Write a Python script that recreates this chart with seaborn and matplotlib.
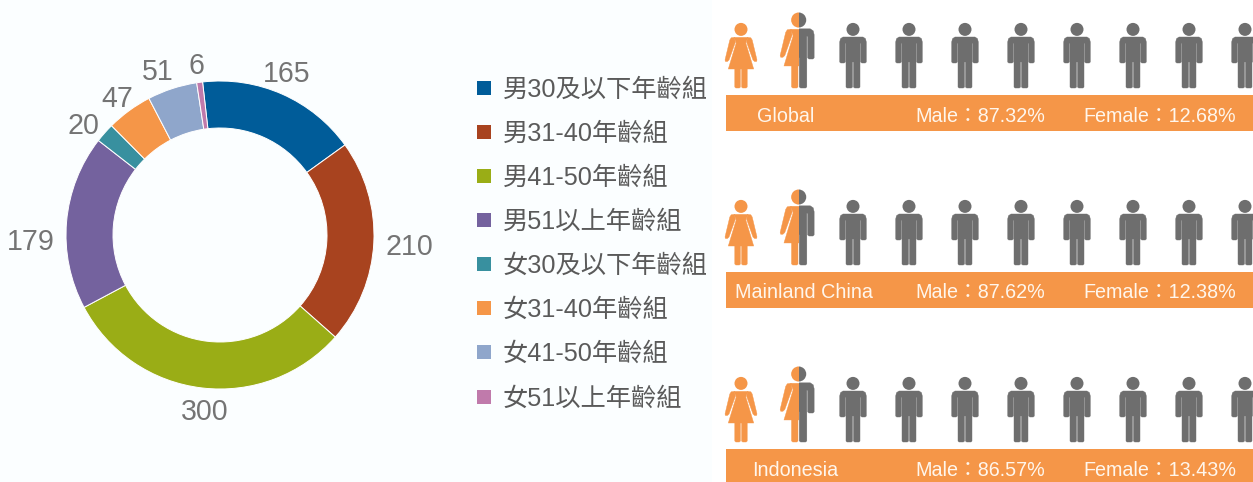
import numpy as np
import pandas as pd
import matplotlib
matplotlib.use("Agg")
import matplotlib.pyplot as plt
from matplotlib.patches import Circle, Polygon, Rectangle
import seaborn as sns

# donut data
groups = ["男30及以下年齡組", "男31-40年齡組", "男41-50年齡組", "男51以上年齡組",
          "女30及以下年齡組", "女31-40年齡組", "女41-50年齡組", "女51以上年齡組"]
counts = [165, 210, 300, 179, 20, 47, 51, 6]
colors = ["#005C99", "#A8431F", "#9AAD16", "#74629E",
          "#38909F", "#F59648", "#8FA6CB", "#C07AAB"]

# gender ratio rows
regions = ["Global", "Mainland China", "Indonesia"]
male_pct = ["87.32%", "87.62%", "86.57%"]
female_pct = ["12.68%", "12.38%", "13.43%"]

W, H = 1253, 482
ORANGE = "#F59648"
GRAY = "#6E6E6E"
TEXT = "#5A5A5A"
BAR_TEXT = "#FFF6EC"

sns.set_theme(style="white")
plt.rcParams['font.family'] = ['Liberation Sans', 'Noto Sans CJK TC', 'DejaVu Sans']

fig = plt.figure(figsize=(W / 100, H / 100), dpi=100, facecolor="#FBFEFF")
ax = fig.add_axes([0, 0, 1, 1])

# donut
cx, cy, R = 220, H - 235, 154
ax.pie(counts, colors=colors, startangle=96.5, counterclock=False,
       center=(cx, cy), radius=R,
       wedgeprops=dict(width=47, edgecolor="white", linewidth=0.7))
ax.set_xlim(0, W)
ax.set_ylim(0, H)
ax.set_aspect("equal")
ax.axis("off")
ax.add_patch(Rectangle((712, 0), W - 712, H, fc="white", ec="none", zorder=0))

label_xy = [(287, 74), (409, 247), (205, 412), (31, 242),
            (83, 126), (117, 99), (158, 72), (196, 66)]
for n, (x, y) in zip(counts, label_xy):
    ax.text(x, H - y, str(n), fontsize=20.6, color="#747474", ha="center", va="center")

# legend swatches
legend_y = [88, 132, 176, 220, 264, 308, 352, 397]
swatches = pd.DataFrame({"x": 484, "y": [H - y for y in legend_y], "group": groups})
sns.scatterplot(data=swatches, x="x", y="y", hue="group", palette=colors, marker="s",
                s=100, linewidth=0, legend=False, ax=ax)
ax.set_xlim(0, W)
ax.set_ylim(0, H)
ax.axis("off")
for g, y in zip(groups, legend_y):
    ax.text(503, H - y - 1.5, g, fontsize=18.2, color=TEXT, ha="left", va="center")

# icon outlines, origin at the feet, right half only where mirrored
man_half = [(0.5, 26), (0.5, 1), (1.6, 0), (6, 0), (7, 1), (7, 44.5), (7.7, 44.5), (7.7, 26),
            (8.8, 25), (12.3, 25), (13.3, 26), (13.3, 46), (12.5, 49.3), (10, 51), (0, 51)]
man_xy = man_half + [(-x, y) for x, y in man_half[::-1]]

woman_leg = [(0.6, 19.5), (0.6, 1), (1.6, 0), (5.2, 0), (6.2, 1), (6.2, 19.5)]
woman_dress = [(-12.7, 19), (12.7, 19), (4.8, 45), (7, 50.6), (-7, 50.6), (-4.8, 45)]
woman_arm = [(6.5, 50.6), (9.8, 50.2), (11.2, 48), (16, 28), (15.5, 26.5), (13.6, 26.5),
             (12, 28), (5.7, 45.5)]


def mirror(pts):
    return [(-x, y) for x, y in pts]


def add_shape(pts, x, feet, scale, color, clip):
    xy = [(x + px * scale, H - feet + py * scale) for px, py in pts]
    p = Polygon(xy, closed=True, fc=color, ec=color, lw=0.3, joinstyle="round", zorder=3)
    ax.add_patch(p)
    if clip is not None:
        p.set_clip_path(clip)


def add_head(x, feet, scale, color, clip):
    c = Circle((x, H - feet + 58.6 * scale), 6.5 * scale, fc=color, ec="none", zorder=3)
    ax.add_patch(c)
    if clip is not None:
        c.set_clip_path(clip)


def draw_man(x, feet, scale=1.0, clip=None):
    add_shape(man_xy, x, feet, scale, GRAY, clip)
    add_head(x, feet, scale, GRAY, clip)


def draw_woman(x, feet, scale=1.0, clip=None):
    for pts in [woman_leg, mirror(woman_leg), woman_dress, woman_arm, mirror(woman_arm)]:
        add_shape(pts, x, feet, scale, ORANGE, clip)
    add_head(x, feet, scale, ORANGE, clip)


# rows
for i, (reg, m, f) in enumerate(zip(regions, male_pct, female_pct)):
    feet = 88 + 177 * i
    draw_woman(741, feet)

    left = Rectangle((770, 0), 28.7, H, transform=ax.transData)
    right = Rectangle((798.7, 0), 28.7, H, transform=ax.transData)
    draw_woman(798.7, feet, 1.16, left)
    draw_man(798.7, feet, 1.16, right)

    for k in range(8):
        draw_man(853 + 56 * k, feet)

    bar_top = feet + 7
    ax.add_patch(Rectangle((726, H - bar_top - 36), W - 726, 36, fc=ORANGE, ec="none", zorder=2))
    ty = H - bar_top - 21
    reg_x = [786, 804, 795][i]
    ax.text(reg_x, ty, reg, fontsize=14.2, color=BAR_TEXT, ha="center", va="center", zorder=4)
    ax.text(915, ty, "Male：" + m, fontsize=14.2, color=BAR_TEXT, ha="left", va="center", zorder=4)
    ax.text(1083, ty, "Female：" + f, fontsize=14.2, color=BAR_TEXT, ha="left", va="center", zorder=4)

fig.savefig("out.png", dpi=100, facecolor=fig.get_facecolor())
